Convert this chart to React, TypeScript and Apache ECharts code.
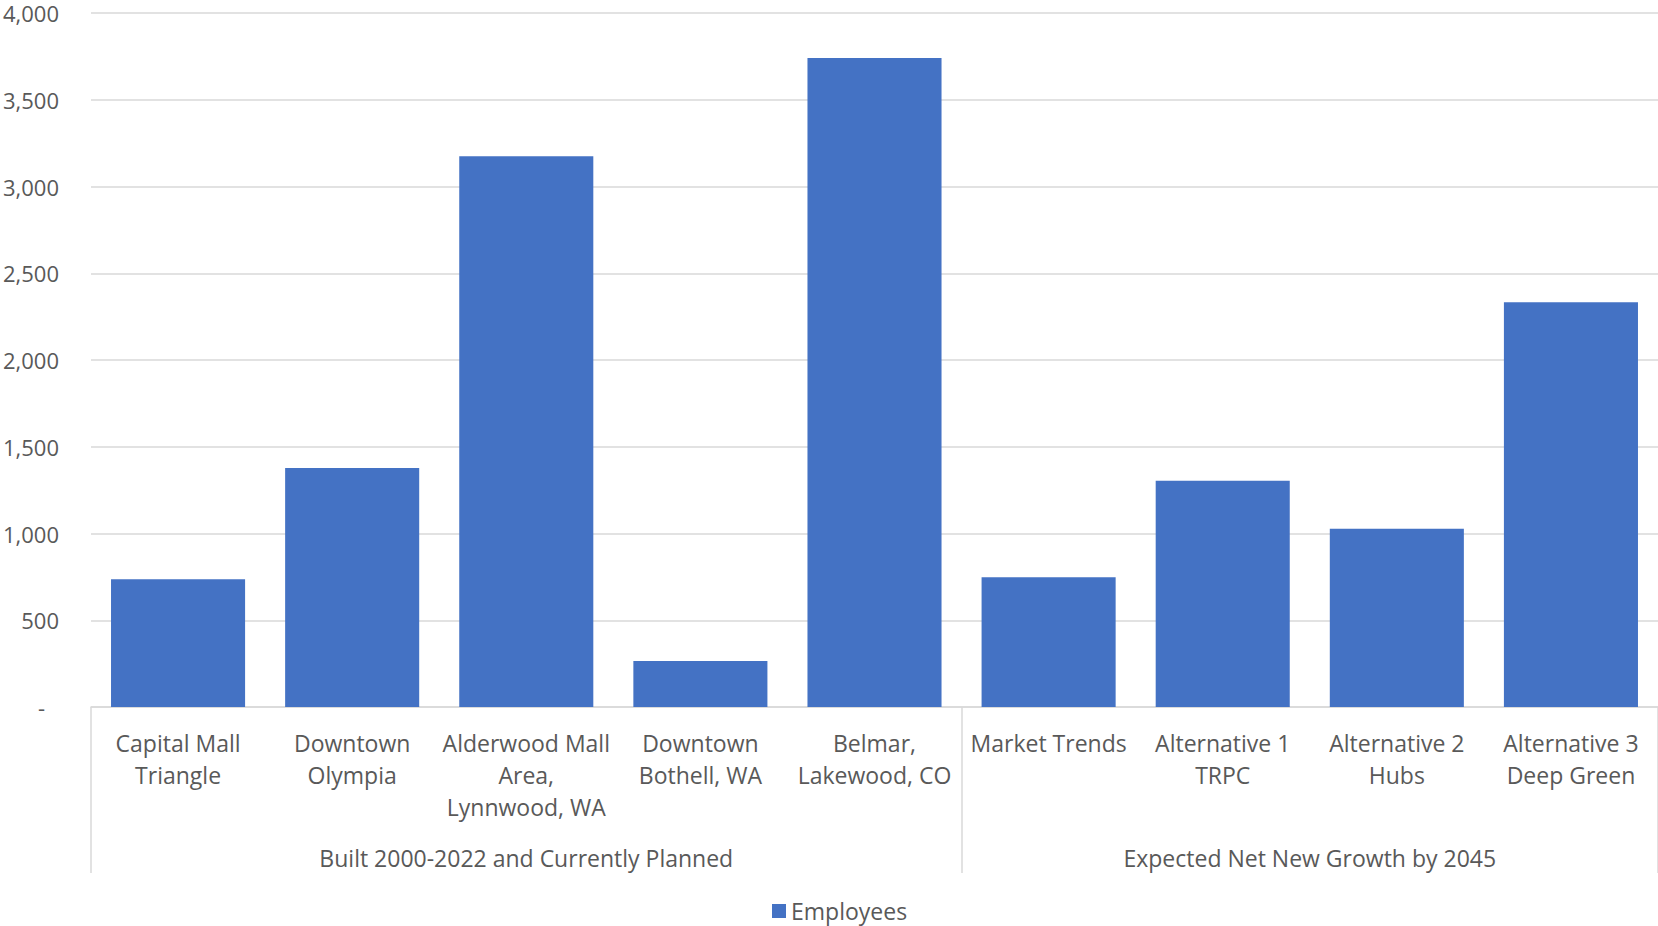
import React, { useEffect, useRef } from "react";
import * as echarts from "echarts";

const categories: string[] = [
  "Capital Mall\nTriangle",
  "Downtown\nOlympia",
  "Alderwood Mall\nArea,\nLynnwood, WA",
  "Downtown\nBothell, WA",
  "Belmar,\nLakewood, CO",
  "Market Trends",
  "Alternative 1\nTRPC",
  "Alternative 2\nHubs",
  "Alternative 3\nDeep Green",
];
const employees: number[] = [737, 1377, 3175, 265, 3740, 748, 1304, 1028, 2333];
const groupNames: string[] = ["Built 2000-2022 and Currently Planned", "Expected Net New Growth by 2045"];
const groupSizes: number[] = [5, 4];
const yTicks = { min: 0, max: 4000, interval: 500 };
const seriesName = "Employees";

const FONT = "'Open Sans', 'Noto Sans', sans-serif";
const TXT = "#595959";
const GRID = "#d9d9d9";
const FS = 23;
const FSY = 22;

export default function App() {
  const ref = useRef<HTMLDivElement>(null);
  useEffect(() => {
    document.body.style.margin = "0";
    if (!ref.current) return;
    const chart = echarts.init(ref.current, undefined, { renderer: "svg" });
    const bounds: number[] = [0];
    groupSizes.forEach((s) => bounds.push(bounds[bounds.length - 1] + s));
    const centers = groupSizes.map((s, i) => bounds[i] + s / 2);
    const total = categories.length;
    chart.setOption({
      animation: false,
      textStyle: { fontFamily: FONT },
      grid: { left: 91, right: 0, top: 13, bottom: 219, containLabel: false, outerBoundsMode: "none" },
      legend: {
        data: [seriesName],
        left: 772,
        top: 898,
        padding: 0,
        icon: "rect",
        itemWidth: 14,
        itemHeight: 14,
        itemGap: 6,
        textStyle: { color: TXT, fontSize: FS, fontFamily: FONT, lineHeight: 26 },
      },
      xAxis: [
        {
          type: "category",
          data: categories,
          axisLine: { show: true, lineStyle: { color: GRID, width: 1.5 } },
          axisTick: {
            show: true,
            length: 166,
            lineStyle: { color: GRID, width: 1.5 },
            interval: (index: number) => bounds.indexOf(index) >= 0,
          },
          axisLabel: {
            interval: 0,
            color: TXT,
            fontSize: FS,
            fontFamily: FONT,
            lineHeight: 32,
            margin: 20,
          },
        },
        {
          type: "value",
          position: "bottom",
          min: 0,
          max: total,
          interval: 0.5,
          axisLine: { show: false },
          axisTick: { show: false },
          splitLine: { show: false },
          axisLabel: {
            show: true,
            color: TXT,
            fontSize: FS,
            fontFamily: FONT,
            lineHeight: 30,
            margin: 136,
            showMinLabel: true,
            showMaxLabel: true,
            formatter: (v: number) => {
              const i = centers.findIndex((c) => Math.abs(c - v) < 1e-6);
              return i >= 0 ? groupNames[i] : "";
            },
          },
        },
      ],
      yAxis: {
        type: "value",
        min: yTicks.min,
        max: yTicks.max,
        interval: yTicks.interval,
        axisLine: { show: false },
        axisTick: { show: false },
        splitLine: { lineStyle: { color: GRID, width: 1.5 } },
        axisLabel: {
          color: TXT,
          fontSize: FSY,
          fontFamily: FONT,
          lineHeight: 20,
          margin: 32,
          formatter: (v: number) => (v === 0 ? "{z|-}" : v.toLocaleString("en-US")),
          rich: { z: { color: TXT, fontSize: FSY, fontFamily: FONT, lineHeight: 20, padding: [0, 14, 0, 0] } },
        },
      },
      series: [
        {
          name: seriesName,
          type: "bar",
          data: employees,
          xAxisIndex: 0,
          barCategoryGap: "23%",
          itemStyle: { color: "#4472c4" },
        },
      ],
    });
    return () => chart.dispose();
  }, []);
  return <div ref={ref} style={{ width: 1658, height: 926 }} />;
}
